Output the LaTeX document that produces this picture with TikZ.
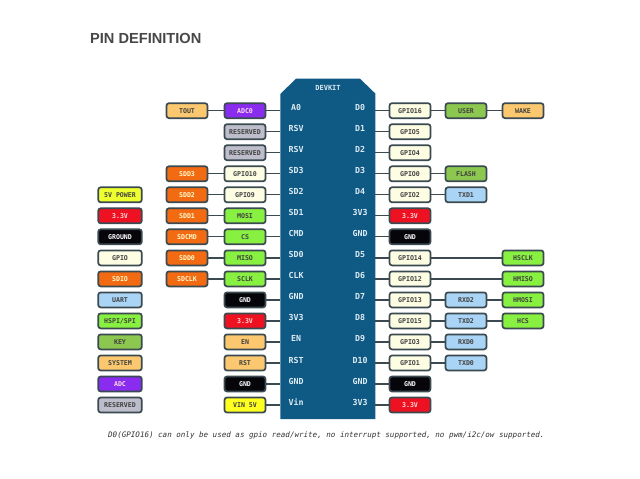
\documentclass[tikz,border=0pt]{standalone}
\usepackage{fontspec}
\usepackage{tikz}
\newfontfamily\pinfont{DejaVu Sans Mono}
\newfontfamily\headfont{Liberation Sans}
\definecolor{edgec}{HTML}{3A4A50}
\definecolor{boardc}{HTML}{0F5A85}
\definecolor{pinc}{HTML}{DCEBF2}
\definecolor{gpioc}{HTML}{FDFDE3}
\definecolor{sdc}{HTML}{F26A12}
\definecolor{advc}{HTML}{8A2BF0}
\definecolor{resc}{HTML}{BDBDCB}
\definecolor{redc}{HTML}{EE1122}
\definecolor{blackc}{HTML}{05050A}
\definecolor{spic}{HTML}{88F040}
\definecolor{keyc}{HTML}{8CC850}
\definecolor{sysc}{HTML}{FBC870}
\definecolor{uartc}{HTML}{AAD4F5}
\definecolor{vinc}{HTML}{FFFF20}
\definecolor{fivec}{HTML}{EEFF30}
\tikzset{
box/.style={draw=edgec,line width=1.7pt,rounded corners=2.5pt,minimum width=41pt,minimum height=15pt,inner sep=0pt,font=\pinfont\bfseries\fontsize{6.6}{7}\selectfont,text=black!75},
wide/.style={box,minimum width=43.5pt},
gpio/.style={box,fill=gpioc},
sd/.style={box,fill=sdc,text=yellow!20},
adcb/.style={box,fill=advc,text=pink!50},
res/.style={box,fill=resc},
pow/.style={box,fill=redc,text=red!15},
gnd/.style={box,fill=blackc,text=white},
spi/.style={box,fill=spic},
key/.style={box,fill=keyc},
sys/.style={box,fill=sysc},
uart/.style={box,fill=uartc},
pin/.style={inner sep=0pt,text=pinc,font=\pinfont\bfseries\fontsize{8.3}{9}\selectfont},
wire/.style={draw=edgec,line width=1.3pt}
}
\begin{document}
\begin{tikzpicture}[x=1pt,y=-1pt]
\useasboundingbox (0,0) rectangle (640,479);
\fill[white] (0,0) rectangle (640,479);
\node[inner sep=0pt,anchor=west,text=black!72,font=\headfont\bfseries\fontsize{14.6}{16}\selectfont] (title) at (90,38.5) {PIN DEFINITION};
\fill[boardc] (296,78.7)--(360,78.7)--(375.3,93.5)--(375.3,419)--(280.3,419)--(280.3,94)--cycle;
\draw
(328,88)node[pin,font=\pinfont\bfseries\fontsize{7}{8}\selectfont](devkit){DEVKIT}
(296,107.7)node[pin](a0){A0}
(296,128.7)node[pin](rsva){RSV}
(296,149.7)node[pin](rsvb){RSV}
(296,170.8)node[pin](sd3){SD3}
(296,191.8)node[pin](sd2){SD2}
(296,212.8)node[pin](sd1){SD1}
(296,233.8)node[pin](cmd){CMD}
(296,254.9)node[pin](sd0){SD0}
(296,275.9)node[pin](clk){CLK}
(296,296.9)node[pin](gnda){GND}
(296,317.9)node[pin](vla){3V3}
(296,338.9)node[pin](en){EN}
(296,360)node[pin](rst){RST}
(296,381)node[pin](gndb){GND}
(296,402)node[pin](vin){Vin}
(360,107.7)node[pin](d0){D0}
(360,128.7)node[pin](d1){D1}
(360,149.7)node[pin](d2){D2}
(360,170.8)node[pin](d3){D3}
(360,191.8)node[pin](d4){D4}
(360,212.8)node[pin](vra){3V3}
(360,233.8)node[pin](gndc){GND}
(360,254.9)node[pin](d5){D5}
(360,275.9)node[pin](d6){D6}
(360,296.9)node[pin](d7){D7}
(360,317.9)node[pin](d8){D8}
(360,338.9)node[pin](d9){D9}
(360,360)node[pin](d10){D10}
(360,381)node[pin](gndd){GND}
(360,402)node[pin](vrb){3V3}
;
\draw
(120,194.8)node[wide,fill=fivec](five){5V POWER}
(120,215.8)node[wide,fill=redc,text=red!15](three){3.3V}
(120,236.8)node[wide,fill=blackc,text=white](ground){GROUND}
(120,257.9)node[wide,fill=gpioc](lgpio){GPIO}
(120,278.9)node[wide,fill=sdc,text=yellow!20](sdio){SDIO}
(120,299.9)node[wide,fill=uartc](luart){UART}
(120,320.9)node[wide,fill=spic](hspi){HSPI/SPI}
(120,341.9)node[wide,fill=keyc](lkey){KEY}
(120,363)node[wide,fill=sysc](system){SYSTEM}
(120,384)node[wide,fill=advc,text=pink!50](ladc){ADC}
(120,405)node[wide,fill=resc](lres){RESERVED}
(187,110.7)node[sys](tout){TOUT}
(187,173.8)node[sd](sdd3){SDD3}
(187,194.8)node[sd](sdd2){SDD2}
(187,215.8)node[sd](sdd1){SDD1}
(187,236.8)node[sd](sdcmd){SDCMD}
(187,257.9)node[sd](sdd0){SDD0}
(187,278.9)node[sd](sdclk){SDCLK}
(245,110.7)node[adcb](adc0){ADC0}
(245,131.7)node[res](resa){RESERVED}
(245,152.7)node[res](resb){RESERVED}
(245,173.8)node[gpio](gpio10){GPIO10}
(245,194.8)node[gpio](gpio9){GPIO9}
(245,215.8)node[spi](mosi){MOSI}
(245,236.8)node[spi](cs){CS}
(245,257.9)node[spi](miso){MISO}
(245,278.9)node[spi](sclk){SCLK}
(245,299.9)node[gnd](bgnda){GND}
(245,320.9)node[pow](bvla){3.3V}
(245,341.9)node[sys](ben){EN}
(245,363)node[sys](brst){RST}
(245,384)node[gnd](bgndb){GND}
(245,405)node[box,fill=vinc](bvin){VIN 5V}
(410,110.7)node[gpio](gpio16){GPIO16}
(410,131.7)node[gpio](gpio5){GPIO5}
(410,152.7)node[gpio](gpio4){GPIO4}
(410,173.8)node[gpio](gpio0){GPIO0}
(410,194.8)node[gpio](gpio2){GPIO2}
(410,215.8)node[pow](bvra){3.3V}
(410,236.8)node[gnd](bgndc){GND}
(410,257.9)node[gpio](gpio14){GPIO14}
(410,278.9)node[gpio](gpio12){GPIO12}
(410,299.9)node[gpio](gpio13){GPIO13}
(410,320.9)node[gpio](gpio15){GPIO15}
(410,341.9)node[gpio](gpio3){GPIO3}
(410,363)node[gpio](gpio1){GPIO1}
(410,384)node[gnd](bgndd){GND}
(410,405)node[pow](bvrb){3.3V}
(466,110.7)node[key](user){USER}
(466,173.8)node[key](flash){FLASH}
(466,194.8)node[uart](txd1){TXD1}
(466,299.9)node[uart](rxd2){RXD2}
(466,320.9)node[uart](txd2){TXD2}
(466,341.9)node[uart](rxd0){RXD0}
(466,363)node[uart](txd0){TXD0}
(523,110.7)node[sys](wake){WAKE}
(523,257.9)node[spi](hsclk){HSCLK}
(523,278.9)node[spi](hmiso){HMISO}
(523,299.9)node[spi](hmosi){HMOSI}
(523,320.9)node[spi](hcs){HCS}
;
\draw
(280.3,110.7)coordinate(ea0)
(280.3,131.7)coordinate(ersva)
(280.3,152.7)coordinate(ersvb)
(280.3,173.8)coordinate(esd3)
(280.3,194.8)coordinate(esd2)
(280.3,215.8)coordinate(esd1)
(280.3,236.8)coordinate(ecmd)
(280.3,257.9)coordinate(esd0)
(280.3,278.9)coordinate(eclk)
(280.3,299.9)coordinate(egnda)
(280.3,320.9)coordinate(evla)
(280.3,341.9)coordinate(een)
(280.3,363)coordinate(erst)
(280.3,384)coordinate(egndb)
(280.3,405)coordinate(evin)
(375.3,110.7)coordinate(ed0)
(375.3,131.7)coordinate(ed1)
(375.3,152.7)coordinate(ed2)
(375.3,173.8)coordinate(ed3)
(375.3,194.8)coordinate(ed4)
(375.3,215.8)coordinate(evra)
(375.3,236.8)coordinate(egndc)
(375.3,257.9)coordinate(ed5)
(375.3,278.9)coordinate(ed6)
(375.3,299.9)coordinate(ed7)
(375.3,320.9)coordinate(ed8)
(375.3,341.9)coordinate(ed9)
(375.3,363)coordinate(ed10)
(375.3,384)coordinate(egndd)
(375.3,405)coordinate(evrb)
;
\draw[wire]
(tout)--(adc0)--(ea0)
(resa)--(ersva)
(resb)--(ersvb)
(sdd3)--(gpio10)--(esd3)
(sdd2)--(gpio9)--(esd2)
(sdd1)--(mosi)--(esd1)
(sdcmd)--(cs)--(ecmd)
(sdd0)--(miso)--(esd0)
(sdclk)--(sclk)--(eclk)
(bgnda)--(egnda)
(bvla)--(evla)
(ben)--(een)
(brst)--(erst)
(bgndb)--(egndb)
(bvin)--(evin)
(ed0)--(gpio16)--(user)--(wake)
(ed1)--(gpio5)
(ed2)--(gpio4)
(ed3)--(gpio0)--(flash)
(ed4)--(gpio2)--(txd1)
(evra)--(bvra)
(egndc)--(bgndc)
(ed5)--(gpio14)--(hsclk)
(ed6)--(gpio12)--(hmiso)
(ed7)--(gpio13)--(rxd2)--(hmosi)
(ed8)--(gpio15)--(txd2)--(hcs)
(ed9)--(gpio3)--(rxd0)
(ed10)--(gpio1)--(txd0)
(egndd)--(bgndd)
(evrb)--(bvrb)
;
\node[inner sep=0pt,anchor=west,text=black!80,font=\pinfont\itshape\fontsize{7.55}{9}\selectfont] (note) at (108,435) {D0(GPIO16) can only be used as gpio read/write, no interrupt supported, no pwm/i2c/ow supported.};
\end{tikzpicture}
\end{document}
